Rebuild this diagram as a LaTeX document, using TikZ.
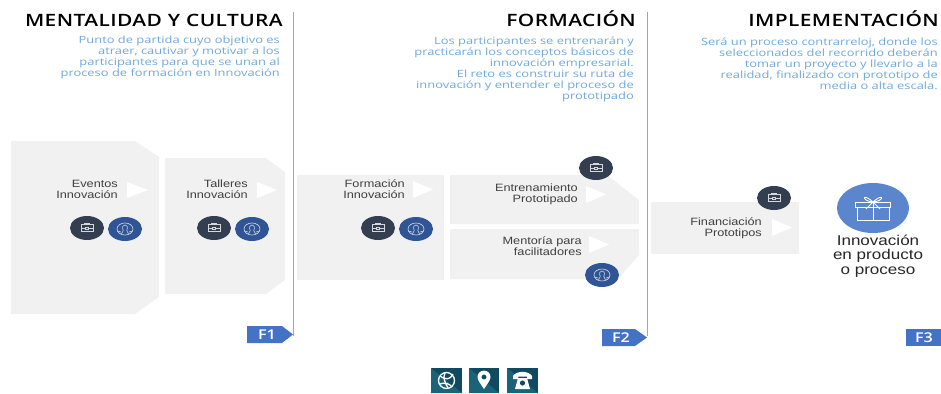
\documentclass[tikz,border=0pt]{standalone}
\usepackage{fontspec}
\usetikzlibrary{shapes.geometric}
\newfontfamily\headf[FakeStretch=1.23,LetterSpace=2.4]{Open Sans Semibold}
\newfontfamily\tabf[FakeStretch=1.2]{Open Sans Semibold}
\newfontfamily\bodyf[FakeStretch=1.29]{Open Sans}
\newfontfamily\labf[FakeStretch=1.2]{Liberation Sans}
\newfontfamily\bigf[FakeStretch=1.2]{Liberation Sans}
\definecolor{boxgray}{HTML}{F1F1F1}
\definecolor{darkc}{HTML}{333F50}
\definecolor{bluec}{HTML}{2F5597}
\definecolor{bigc}{HTML}{5B85CC}
\definecolor{tabc}{HTML}{4472C4}
\definecolor{bodyc}{HTML}{6FA8DC}
\definecolor{labc}{HTML}{404040}
\definecolor{sqa}{HTML}{0F4A60}
\definecolor{sqb}{HTML}{1B6378}
\definecolor{linec}{HTML}{A6A6A6}
\tikzset{
  panel/.style={fill=boxgray,draw=none},
  pointer/.style={fill=white,draw=none},
  head/.style={anchor=base east,inner sep=0pt,font=\headf\fontsize{17}{18}\selectfont,text=black},
  bodytext/.style={anchor=base east,inner sep=0pt,align=right,font=\bodyf\fontsize{10}{11}\selectfont,text=bodyc},
  lab/.style={anchor=base east,inner sep=0pt,align=right,font=\labf\fontsize{10.6}{11}\selectfont,text=labc},
  bigt/.style={anchor=base,inner sep=0pt,align=center,font=\bigf\fontsize{14.2}{14.6}\selectfont,text=black!85},
  dk/.style={ellipse,fill=darkc,minimum width=34pt,minimum height=24pt,inner sep=0pt},
  bl/.style={ellipse,fill=bluec,minimum width=34pt,minimum height=24pt,inner sep=0pt},
  tab/.style={fill=tabc,draw=none},
  tabt/.style={inner sep=0pt,font=\tabf\fontsize{13.5}{14}\selectfont,text=white},
  sep/.style={linec,line width=0.8pt},
  ic/.style={white!80!darkc,line width=0.6pt},
  pics/brief/.style={code={
    \draw[ic] (-6,-3.5) rectangle (6,3.5);
    \draw[ic] (-2.5,-3.5) -- (-2.5,-5) -- (2.5,-5) -- (2.5,-3.5);
    \draw[ic] (-6,0) -- (-1.5,0) (1.5,0) -- (6,0);
    \draw[ic] (-1.5,-1) rectangle (1.5,1);
  }},
  pics/ppl/.style={code={
    \draw[ic] (0,0) ellipse (8 and 6);
    \draw[ic] (-3.5,5) -- (-1.8,1.5) .. controls (-5,-6) and (5,-6) .. (1.8,1.5) -- (3.5,5);
    \draw[ic] (-7.6,2) -- (-3.6,3.2) (7.6,2) -- (3.6,3.2);
  }},
}
\begin{document}
\begin{tikzpicture}[x=1pt,y=-1pt]
\useasboundingbox (0,0) rectangle (941,393);
% separators
\coordinate (s1a) at (293,12); \coordinate (s1b) at (293,336);
\coordinate (s2a) at (647,12); \coordinate (s2b) at (647,336);
\draw[sep] (s1a) -- (s1b);
\draw[sep] (s2a) -- (s2b);
% headings
\node[head] (h1) at (283,27) {MENTALIDAD Y CULTURA};
\node[head] (h2) at (636,27) {FORMACIÓN};
\node[head] (h3) at (939,27) {IMPLEMENTACIÓN};
\node[bodytext] (t1) at (280,77) {Punto de partida cuyo objetivo es\\atraer, cautivar y motivar a los\\participantes para que se unan al\\proceso de formación en Innovación};
\node[bodytext] (t2) at (634,99.5) {Los participantes se entrenarán y\\practicarán los conceptos básicos de\\innovación empresarial.\\El reto es construir su ruta de\\innovación y entender el proceso de\\prototipado};
\node[bodytext] (t3) at (938,89.5) {Será un proceso contrarreloj, donde los\\seleccionados del recorrido deberán\\tomar un proyecto y llevarlo a la\\realidad, finalizado con prototipo de\\media o alta escala.};
% panels
\fill[panel] (11,141) -- (135,141) -- (159,157) -- (159,297) -- (135,314) -- (11,314) -- cycle;
\fill[panel] (165,158) -- (266,158) -- (285,172) -- (285,280) -- (266,294) -- (165,294) -- cycle;
\fill[panel] (297,175) rectangle (444,280);
\fill[panel] (450,175) -- (607,175) -- (639,200) -- (639,224) -- (450,224) -- cycle;
\fill[panel] (450,229) -- (639,229) -- (639,255) -- (618,279) -- (450,279) -- cycle;
\fill[panel] (651,202) rectangle (799,254);
% pointers
\fill[pointer] (127,182) -- (148,190) -- (127,198) -- cycle;
\fill[pointer] (257,182) -- (277,190) -- (257,198) -- cycle;
\fill[pointer] (413,181) -- (433,189.5) -- (413,198) -- cycle;
\fill[pointer] (586,186) -- (606,194.5) -- (586,203) -- cycle;
\fill[pointer] (589,236) -- (609,244.5) -- (589,253) -- cycle;
\fill[pointer] (772,219) -- (792,227.5) -- (772,236) -- cycle;
% labels
\node[lab] (l1) at (118,198.5) {Eventos\\Innovación};
\node[lab] (l2) at (248,198.5) {Talleres\\Innovación};
\node[lab] (l3) at (405,198) {Formación\\Innovación};
\node[lab] (l4) at (578,202.5) {Entrenamiento\\Prototipado};
\node[lab] (l5) at (582,255.5) {Mentoría para\\facilitadores};
\node[lab] (l6) at (762,236) {Financiación\\Prototipos};
% badges
\node[dk] (d1) at (87,228) {}; \pic at (d1) {brief};
\node[bl] (b1) at (125,229) {}; \pic at (b1) {ppl};
\node[dk] (d2) at (214,228) {}; \pic at (d2) {brief};
\node[bl] (b2) at (252,229) {}; \pic at (b2) {ppl};
\node[dk] (d3) at (378,228) {}; \pic at (d3) {brief};
\node[bl] (b3) at (416,229) {}; \pic at (b3) {ppl};
\node[dk] (d4) at (596,168) {}; \pic at (d4) {brief};
\node[bl] (b5) at (602,275) {}; \pic at (b5) {ppl};
\node[dk] (d6) at (774,198) {}; \pic at (d6) {brief};
% outcome
\node[ellipse,fill=bigc,minimum width=72pt,minimum height=50pt,inner sep=0pt] (big) at (873,208) {};
\begin{scope}[white,line width=0.9pt]
\draw (857,207) rectangle (889,220.5);
\draw (855.5,202) rectangle (890.5,207);
\draw (873,202) -- (873,220.5);
\draw (873,202) .. controls (862,192) and (861,201) .. (873,202);
\draw (873,202) .. controls (884,192) and (885,201) .. (873,202);
\draw (873,202) -- (866,209) (873,202) -- (880,209);
\end{scope}
\node[bigt] (bt) at (878,274.5) {Innovación\\en producto\\o proceso};
% tabs
\fill[tab] (247,326) -- (282,326) -- (293,334.5) -- (282,343) -- (247,343) -- cycle;
\node[tabt] (f1) at (267,334.5) {F1};
\fill[tab] (602,329) -- (635,329) -- (647,337.5) -- (635,346) -- (602,346) -- cycle;
\node[tabt] (f2) at (621,337.5) {F2};
\fill[tab] (906,329) rectangle (941,346);
\node[tabt] (f3) at (924,337.5) {F3};
% bottom squares
\foreach \xa/\xb in {431/462,469/499,507/538}{
  \fill[sqa] (\xa,368) rectangle (\xb,393);
  \fill[sqb] (\xa,368) -- (\xb,393) -- (\xa,393) -- cycle;
}
% globe
\begin{scope}[white,line width=1.3pt]
\draw (446.5,380.5) circle (8);
\draw (440,376) .. controls (446,380) and (450,380) .. (453,374);
\draw (439.5,384) .. controls (445,382) and (450,384) .. (452,387);
\draw (445,373) .. controls (442,378) and (446,384) .. (448,388);
\end{scope}
% pin
\fill[white,even odd rule] (484,389) .. controls (480,383) and (477.5,380) .. (477.5,377) .. controls (477.5,368.5) and (490.5,368.5) .. (490.5,377) .. controls (490.5,380) and (488,383) .. (484,389) -- cycle (484,377) circle (2.6);
% telephone
\fill[white] (513,376) .. controls (516,370.5) and (529,370.5) .. (532,376) -- (532,379) -- (527,379) -- (527,376.5) -- (518,376.5) -- (518,379) -- (513,379) -- cycle;
\fill[white] (518,378) -- (527,378) -- (530,389) -- (515,389) -- cycle;
\fill[sqa] (522.5,383) circle (2.6);
\end{tikzpicture}
\end{document}
